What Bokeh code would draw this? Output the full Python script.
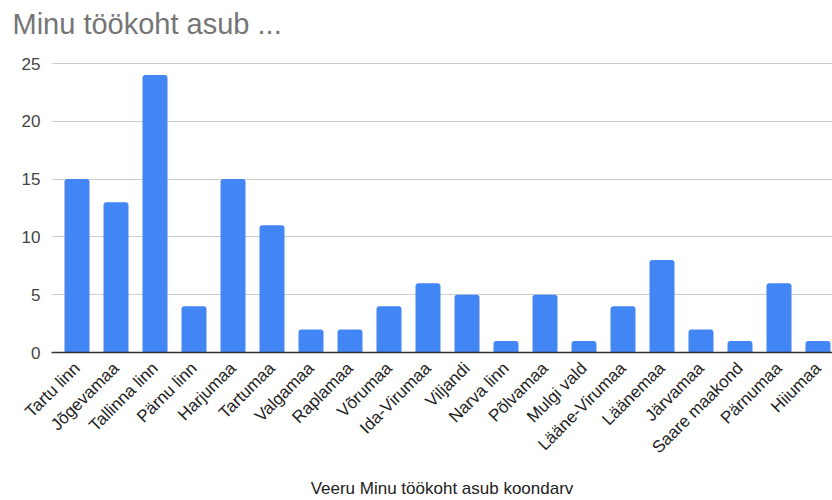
import numpy as np
from bokeh.plotting import figure
from bokeh.models import Title, Range1d, FixedTicker, ColumnDataSource
from bokeh.embed import file_html
from bokeh.resources import INLINE

categories = ["Tartu linn", "Jõgevamaa", "Tallinna linn", "Pärnu linn", "Harjumaa",
              "Tartumaa", "Valgamaa", "Raplamaa", "Võrumaa", "Ida-Virumaa",
              "Viljandi", "Narva linn", "Põlvamaa", "Mulgi vald", "Lääne-Virumaa",
              "Läänemaa", "Järvamaa", "Saare maakond", "Pärnumaa", "Hiiumaa"]
values = [15, 13, 24, 4, 15, 11, 2, 2, 4, 6, 5, 1, 5, 1, 4, 8, 2, 1, 6, 1]
y_ticks = [0, 5, 10, 15, 20, 25]
title_text = "Minu töökoht asub ..."
x_title = "Veeru Minu töökoht asub koondarv"

FONT = "Liberation Sans"

# layout: frame from y=42 to y=352 px; the 25 gridline sits 289 px above zero
TOP_BORDER = 42
BOTTOM_BORDER = 148
H = 500
y_end = 25 * (H - BOTTOM_BORDER - TOP_BORDER) / 289

xs = list(range(len(categories)))
src = ColumnDataSource(dict(x=xs, top=values, name=categories))

p = figure(width=832, height=H, output_backend="svg", toolbar_location=None,
           x_range=Range1d(-0.654, len(categories) - 1 + 0.372),
           y_range=Range1d(0, y_end),
           min_border_left=51, min_border_right=0, min_border_top=TOP_BORDER,
           min_border_bottom=BOTTOM_BORDER)
p.title = None

p.vbar(x="x", top="top", bottom=0, width=0.641, source=src,
       fill_color="#4285F4", line_color=None, border_radius=(3, 3, 0, 0))

t = Title(text=title_text, text_font=FONT, text_font_size="29px",
          text_font_style="normal", text_color="#757575", align="left",
          vertical_align="bottom", offset=-39, standoff=6)
p.add_layout(t, "above")

p.outline_line_color = None
p.background_fill_color = "white"
p.border_fill_color = "white"

p.xgrid.grid_line_color = None
p.ygrid.grid_line_color = "#cccccc"
p.ygrid.grid_line_width = 1

p.xaxis.ticker = FixedTicker(ticks=xs)
p.xaxis.major_label_overrides = {i: c for i, c in enumerate(categories)}
p.xaxis.major_label_orientation = np.pi / 4
p.xaxis.major_label_text_font = FONT
p.xaxis.major_label_text_font_size = "17px"
p.xaxis.major_label_text_color = "#222222"
p.xaxis.major_label_standoff = 7
p.xaxis.major_tick_line_color = None
p.xaxis.minor_tick_line_color = None
p.xaxis.axis_line_color = "#333333"
p.xaxis.axis_line_width = 1.3
p.xaxis.axis_label = x_title
p.xaxis.axis_label_text_font = FONT
p.xaxis.axis_label_text_font_size = "17px"
p.xaxis.axis_label_text_font_style = "normal"
p.xaxis.axis_label_text_color = "#222222"
p.xaxis.axis_label_standoff = 12

p.yaxis.ticker = FixedTicker(ticks=y_ticks)
p.yaxis.major_label_text_font = FONT
p.yaxis.major_label_text_font_size = "17px"
p.yaxis.major_label_text_color = "#444444"
p.yaxis.major_label_standoff = 5
p.yaxis.major_tick_line_color = None
p.yaxis.minor_tick_line_color = None
p.yaxis.axis_line_color = None

open("out.html", "w").write(file_html(p, INLINE))
